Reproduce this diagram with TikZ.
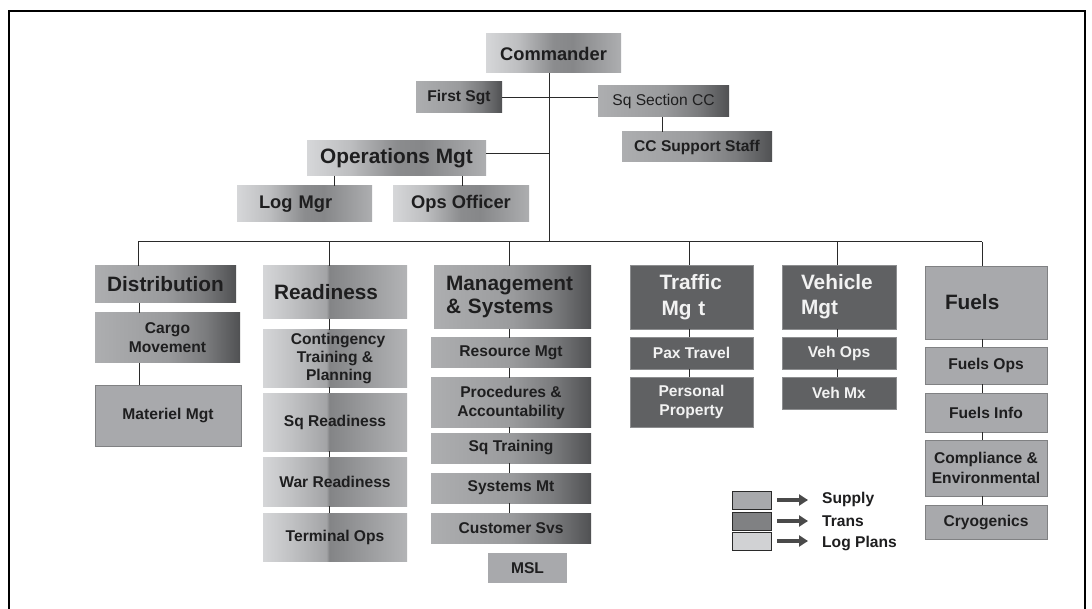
\documentclass[tikz,border=0pt]{standalone}
\usepackage{fontspec}
\setmainfont{Liberation Sans}
\usetikzlibrary{arrows.meta}
\definecolor{tx}{HTML}{1E1E1F}
\definecolor{lc}{HTML}{2A2A2A}
\definecolor{medg}{HTML}{A8A9AC}
\definecolor{darkg}{HTML}{606163}
\definecolor{lightg}{HTML}{D1D2D4}
\definecolor{bmed}{HTML}{808183}
\definecolor{bdark}{HTML}{8C8D8F}
\definecolor{mA1}{HTML}{D6D7D9}
\definecolor{mA2}{HTML}{BDBEC0}
\definecolor{mA3}{HTML}{8B8C8E}
\definecolor{mA4}{HTML}{868789}
\definecolor{mA5}{HTML}{ADAEB0}
\definecolor{mR1}{HTML}{D5D6D8}
\definecolor{mR2}{HTML}{C0C1C3}
\definecolor{mR3}{HTML}{A3A4A6}
\definecolor{mR4}{HTML}{838486}
\definecolor{mR5}{HTML}{B3B4B6}
\definecolor{mD1}{HTML}{ADAEB0}
\definecolor{mD2}{HTML}{9A9B9D}
\definecolor{mD3}{HTML}{7B7C7E}
\definecolor{mD4}{HTML}{505153}
\pgfdeclarehorizontalshading{metal}{100bp}{color(0bp)=(mA1); color(25bp)=(mA1); color(37bp)=(mA2); color(50bp)=(mA3); color(57bp)=(mA4); color(75bp)=(mA5); color(100bp)=(mA5)}
\pgfdeclarehorizontalshading{metalR}{100bp}{color(0bp)=(mR1); color(25bp)=(mR1); color(35bp)=(mR2); color(47bp)=(mR3); color(48bp)=(mR4); color(75bp)=(mR5); color(100bp)=(mR5)}
\pgfdeclarehorizontalshading{metalD}{100bp}{color(0bp)=(mD1); color(25bp)=(mD1); color(50bp)=(mD2); color(63bp)=(mD3); color(75bp)=(mD4); color(100bp)=(mD4)}
\newcommand\fA{\fontsize{15.6}{19}\selectfont\bfseries}
\newcommand\fAr{\fontsize{15.6}{19}\selectfont}
\newcommand\fB{\fontsize{18.3}{22}\selectfont\bfseries}
\newcommand\fC{\fontsize{20.8}{24.5}\selectfont\bfseries}
\newcommand\bx[7][]{%
  \pgfmathsetmacro\myW{#4-#2}%
  \pgfmathsetmacro\myH{#5-#3}%
  \node[box,#1,minimum width=\myW pt,minimum height=\myH pt] (#6) at ({(#2+#4)/2},{(#3+#5)/2}) {#7};%
}
\tikzset{
  box/.style={rectangle, inner sep=0pt, outer sep=0pt, text=tx, font=\fA, align=center},
  gA/.style={shading=metal},
  gR/.style={shading=metalR},
  gD/.style={shading=metalD},
  supply/.style={fill=medg, draw=bmed, line width=0.9pt},
  trans/.style={fill=darkg, draw=bdark, line width=0.9pt, text=white!95!black},
  conn/.style={draw=lc, line width=1pt},
  legarrow/.style={draw=lc!85, line width=4pt, -{Triangle[length=9pt,width=11pt]}},
  legtext/.style={anchor=west, inner sep=0pt, text=tx, font=\fA}
}
\begin{document}
\begin{tikzpicture}[x=1pt,y=-1pt]
\useasboundingbox (0,0) rectangle (1092,609);
\fill[white] (0,0) rectangle (1092,609);
\draw[line width=2pt, black] (9,609) -- (9,11) -- (1085,11) -- (1085,609);

% coordinates for connector columns
\coordinate (main) at (549,242);
\coordinate (busL) at (138,242);
\coordinate (busR) at (982,242);
\coordinate (cD) at (139,0);
\coordinate (cR) at (329,0);
\coordinate (cM) at (509,0);
\coordinate (cT) at (689,0);
\coordinate (cV) at (837,0);
\coordinate (cF) at (982,0);
\coordinate (cLM) at (334,0);
\coordinate (cOO) at (462,0);
\coordinate (cSC) at (662,0);

% top level
\bx[gA,font=\fB]{486}{34}{621}{73}{cmd}{Commander}
\bx[gD]{416}{82}{502}{113}{fsgt}{First Sgt}
\bx[gD,font=\fAr]{598}{86}{729}{117}{sqcc}{Sq Section CC}
\bx[gD]{622}{132}{772}{162}{ccs}{CC Support Staff}
\bx[gA,font=\fC]{307}{141}{486}{176}{ops}{Operations Mgt}
\bx[gA,font=\fB,text width=91pt,align=left]{237}{186}{372}{222}{logm}{Log Mgr}
\bx[gA,font=\fB]{393}{186}{529}{222}{opso}{Ops Officer}

% Distribution column
\bx[gD,font=\fC]{95}{266}{236}{303}{dist}{Distribution}
\bx[gD]{95}{313}{240}{363}{cargo}{Cargo\\Movement}
\bx[supply]{95}{385}{241}{446}{mat}{Materiel Mgt}

% Readiness column
\bx[gR,font=\fC,text width=122pt,align=left]{263}{266}{407}{319}{read}{Readiness}
\bx[gR,font={\fontsize{15.6}{18}\selectfont\bfseries}]{263}{330}{407}{387}{cont}{\hspace*{6pt}Contingency\\Training \&\\\hspace*{8pt}Planning}
\bx[gR]{263}{393}{407}{451}{sqr}{Sq Readiness}
\bx[gR]{263}{457}{407}{506}{warr}{War Readiness}
\bx[gR]{263}{513}{407}{561}{term}{Terminal Ops}

% Management & Systems column
\bx[gD,font={\fontsize{20.8}{23}\selectfont\bfseries},text width=133pt,align=left]{434}{266}{591}{329}{mgmt}{Management\\\& Systems}
\bx[gD]{431}{338}{591}{368}{res}{Resource Mgt}
\bx[gD]{431}{378}{591}{427}{proc}{Procedures \&\\Accountability}
\bx[gD]{431}{433}{591}{463}{sqt}{Sq Training}
\bx[gD]{431}{473}{591}{503}{sysm}{Systems Mt}
\bx[gD]{431}{513}{591}{543}{cust}{Customer Svs}
\bx[fill=medg]{488}{553}{567}{583}{msl}{MSL}

% Traffic column
\bx[trans,font={\fontsize{20.8}{26}\selectfont\bfseries},text width=64pt,align=left]{630}{265}{753}{329}{traf}{Traffic\\\hspace*{2pt}Mg t}
\bx[trans]{630}{337}{753}{369}{pax}{Pax Travel}
\bx[trans]{630}{377}{753}{427}{pers}{Personal\\Property}

% Vehicle column
\bx[trans,font={\fontsize{20.8}{25}\selectfont\bfseries},text width=76pt,align=left]{782}{265}{896}{329}{veh}{Vehicle\\Mgt}
\bx[trans]{782}{337}{896}{369}{vops}{Veh Ops}
\bx[trans]{782}{377}{896}{409}{vmx}{Veh Mx}

% Fuels column
\bx[supply,font=\fC,text width=82pt,align=left]{925}{266}{1047}{339}{fuel}{Fuels}
\bx[supply]{925}{347}{1047}{384}{fops}{Fuels Ops}
\bx[supply]{925}{393}{1047}{432}{finfo}{Fuels Info}
\bx[supply,font={\fontsize{15.6}{20}\selectfont\bfseries}]{925}{440}{1047}{496}{comp}{Compliance \&\\Environmental}
\bx[supply]{925}{505}{1047}{539}{cryo}{Cryogenics}

% Legend
\bx[fill=medg,draw=lc,line width=0.9pt]{732}{491}{771}{509}{lg1}{}
\bx[fill=bmed,draw=lc,line width=0.9pt]{732}{512}{771}{530}{lg2}{}
\bx[fill=lightg,draw=lc,line width=0.9pt]{732}{532}{771}{550}{lg3}{}
\node[legtext] (lt1) at (822,499) {Supply};
\node[legtext] (lt2) at (822,521) {Trans};
\node[legtext] (lt3) at (822,543) {Log Plans};
\coordinate (aend) at (808,0);
\draw[legarrow] ([xshift=6pt]lg1.east) -- (lg1.east -| aend);
\draw[legarrow] ([xshift=6pt]lg2.east) -- (lg2.east -| aend);
\draw[legarrow] ([xshift=6pt]lg3.east) -- (lg3.east -| aend);

% Connectors: top
\draw[conn] (cmd.south -| main) -- (main);
\draw[conn] (fsgt.east) -- (fsgt.east -| sqcc.west);
\draw[conn] ([yshift=4.5pt]ops.east) -- ([yshift=4.5pt]ops.east -| main);
\draw[conn] (sqcc.south -| cSC) -- (ccs.north -| cSC);
\draw[conn] (ops.south -| cLM) -- (logm.north -| cLM);
\draw[conn] (ops.south -| cOO) -- (opso.north -| cOO);
% bus
\draw[conn] (busL) -- (busR);
\draw[conn] (busL) -- (dist.north -| busL);
\draw[conn] (busL -| cR) -- (read.north -| cR);
\draw[conn] (busL -| cM) -- (mgmt.north -| cM);
\draw[conn] (busL -| cT) -- (traf.north -| cT);
\draw[conn] (busL -| cV) -- (veh.north -| cV);
\draw[conn] (busR) -- (fuel.north -| cF);
% columns
\draw[conn] (dist.south -| cD) -- (cargo.north -| cD);
\draw[conn] (cargo.south -| cD) -- (mat.north -| cD);
\draw[conn] (read.south -| cR) -- (cont.north -| cR);
\draw[conn] (cont.south -| cR) -- (sqr.north -| cR);
\draw[conn] (sqr.south -| cR) -- (warr.north -| cR);
\draw[conn] (warr.south -| cR) -- (term.north -| cR);
\draw[conn] (mgmt.south -| cM) -- (res.north -| cM);
\draw[conn] (res.south -| cM) -- (proc.north -| cM);
\draw[conn] (proc.south -| cM) -- (sqt.north -| cM);
\draw[conn] (sqt.south -| cM) -- (sysm.north -| cM);
\draw[conn] (sysm.south -| cM) -- (cust.north -| cM);
\draw[conn] (traf.south -| cT) -- (pax.north -| cT);
\draw[conn] (pax.south -| cT) -- (pers.north -| cT);
\draw[conn] (veh.south -| cV) -- (vops.north -| cV);
\draw[conn] (vops.south -| cV) -- (vmx.north -| cV);
\draw[conn] (fuel.south -| cF) -- (fops.north -| cF);
\draw[conn] (fops.south -| cF) -- (finfo.north -| cF);
\draw[conn] (finfo.south -| cF) -- (comp.north -| cF);
\draw[conn] (comp.south -| cF) -- (cryo.north -| cF);
\end{tikzpicture}
\end{document}
